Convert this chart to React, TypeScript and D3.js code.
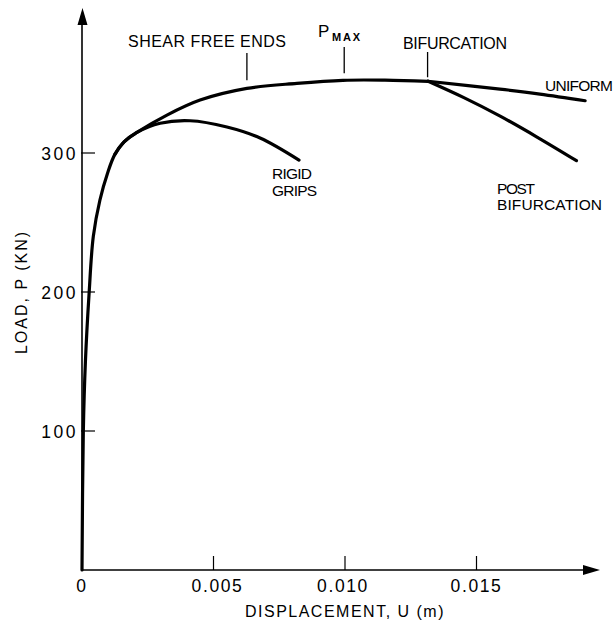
import React from "react";
import * as d3 from "d3";

// Load–displacement curves (u in metres, P in kN)
const shearFreeEnds: [number, number][] = [
  [0, 0], [0.00005, 99.5], [0.00013, 150], [0.00027, 199], [0.00043, 240],
  [0.00068, 266], [0.00098, 286], [0.00125, 299], [0.00160, 308],
  [0.00209, 314.8], [0.00323, 327.3], [0.00449, 338.1],
  [0.00627, 346.5], [0.00817, 350.1], [0.00992, 352.3], [0.01152, 352.4],
  [0.01316, 351.6],
];
const uniform: [number, number][] = [
  [0.01316, 351.6], [0.01589, 346], [0.01741, 342.4], [0.01913, 337.6],
];
const postBifurcation: [number, number][] = [
  [0.01316, 351.6], [0.0145, 340], [0.0159, 326.5], [0.0173, 311.5],
  [0.0188, 294.5],
];
const rigidGrips: [number, number][] = [
  [0.00125, 299], [0.00160, 308], [0.00209, 314.8], [0.00297, 321.4], [0.00411, 323.2],
  [0.00551, 318.7], [0.00677, 310.8], [0.00825, 294.9],
];

const xTicks = [0, 0.005, 0.01, 0.015];
const xTickLabels = ["0", "0.005", "0.010", "0.015"];
const yTicks = [100, 200, 300];
const yTickLabels = ["100", "200", "300"];

// marker positions (u) for the annotations on the top curve
const markerShear = 0.00627;
const markerPmax = 0.00997;
const markerBif = 0.01314;

export default function App() {
  const x = d3.scaleLinear().domain([0, 0.015]).range([82, 476.5]);
  const y = d3.scaleLinear().domain([0, 300]).range([570, 153]);
  const line = d3
    .line<[number, number]>()
    .x((d) => x(d[0]))
    .y((d) => y(d[1]))
    .curve(d3.curveCatmullRom.alpha(0.5));

  const x0 = x(0);
  const y0 = y(0);
  const font = "'Liberation Sans', Arial, sans-serif";
  const curveTop = (u: number) => {
    for (let i = 1; i < shearFreeEnds.length; i++) {
      const a = shearFreeEnds[i - 1], b = shearFreeEnds[i];
      if (u <= b[0]) return a[1] + ((u - a[0]) / (b[0] - a[0])) * (b[1] - a[1]);
    }
    return shearFreeEnds[shearFreeEnds.length - 1][1];
  };

  return (
    <svg width={616} height={632} style={{ display: "block", position: "absolute", left: 0, top: 0 }}>
      <rect width={616} height={632} fill="#fff" />
      {/* axes */}
      <line x1={x0} y1={y0} x2={590} y2={y0} stroke="#000" strokeWidth={1.5} />
      <path d={`M600,${y0} L583,${y0 - 5} L583,${y0 + 5} Z`} fill="#000" />
      <line x1={x0} y1={y0} x2={x0} y2={20} stroke="#000" strokeWidth={1.6} />
      <path d={`M${x0 + 0.5},8 L${x0 - 4.5},25 L${x0 + 5.5},25 Z`} fill="#000" />

      {/* x ticks */}
      {xTicks.slice(1).map((t) => (
        <line key={t} x1={x(t)} x2={x(t)} y1={y0} y2={y0 - 14} stroke="#000" strokeWidth={1.2} />
      ))}
      {xTicks.map((t, i) => (
        <text key={t} x={x(t) + (i === 1 ? 4 : 0) - (i === 2 ? 2 : 0)} y={592} textAnchor="middle"
          fontFamily={font} fontSize={17.5} letterSpacing={1.6}>
          {xTickLabels[i]}
        </text>
      ))}
      {/* y ticks */}
      {yTicks.map((t) => (
        <line key={t} x1={x0 - 1} x2={x0 + 13} y1={y(t)} y2={y(t)} stroke="#000" strokeWidth={1.2} />
      ))}
      {yTicks.map((t, i) => (
        <text key={t} x={78} y={y(t) + 6.5} textAnchor="end" fontFamily={font} fontSize={17.5} letterSpacing={2.5}>
          {yTickLabels[i]}
        </text>
      ))}

      {/* axis titles */}
      <text x={345} y={617} textAnchor="middle" fontFamily={font} fontSize={16} letterSpacing={1.5}>
        DISPLACEMENT, U (m)
      </text>
      <text transform="translate(27,292) rotate(-90)" textAnchor="middle" fontFamily={font} fontSize={16} letterSpacing={2}>
        LOAD, P (KN)
      </text>

      {/* curves */}
      {[shearFreeEnds, uniform, postBifurcation, rigidGrips].map((d, i) => (
        <path key={i} d={line(d) || ""} fill="none" stroke="#000" strokeWidth={3.2}
          strokeLinecap="round" strokeLinejoin="round" />
      ))}

      {/* annotation markers */}
      <line x1={x(markerShear)} x2={x(markerShear)} y1={53} y2={y(curveTop(markerShear)) - 8} stroke="#000" strokeWidth={1.3} />
      <line x1={x(markerPmax)} x2={x(markerPmax)} y1={47} y2={y(curveTop(markerPmax)) - 7} stroke="#000" strokeWidth={1.3} />
      <line x1={x(markerBif)} x2={x(markerBif)} y1={52} y2={y(curveTop(markerBif)) - 4} stroke="#000" strokeWidth={1.3} />

      {/* labels */}
      <g fontFamily={font} fontSize={16} fill="#000">
        <text x={128} y={47} textLength={158} lengthAdjust="spacing">SHEAR FREE ENDS</text>
        <text x={318} y={37} fontSize={17}>P</text>
        <text x={332} y={41} fontSize={11} fontWeight="bold" textLength={28} lengthAdjust="spacing">MAX</text>
        <text x={403} y={48.5} textLength={104} lengthAdjust="spacing">BIFURCATION</text>
        <text x={545} y={91} fontSize={15.5} textLength={68} lengthAdjust="spacing">UNIFORM</text>
        <text x={497} y={193.5} fontSize={15.5} textLength={38} lengthAdjust="spacing">POST</text>
        <text x={497} y={209.5} fontSize={15.5} textLength={105} lengthAdjust="spacing">BIFURCATION</text>
        <text x={272} y={178.5} fontSize={15.5} textLength={40} lengthAdjust="spacing">RIGID</text>
        <text x={272} y={196} fontSize={15.5} textLength={45} lengthAdjust="spacing">GRIPS</text>
      </g>
    </svg>
  );
}
